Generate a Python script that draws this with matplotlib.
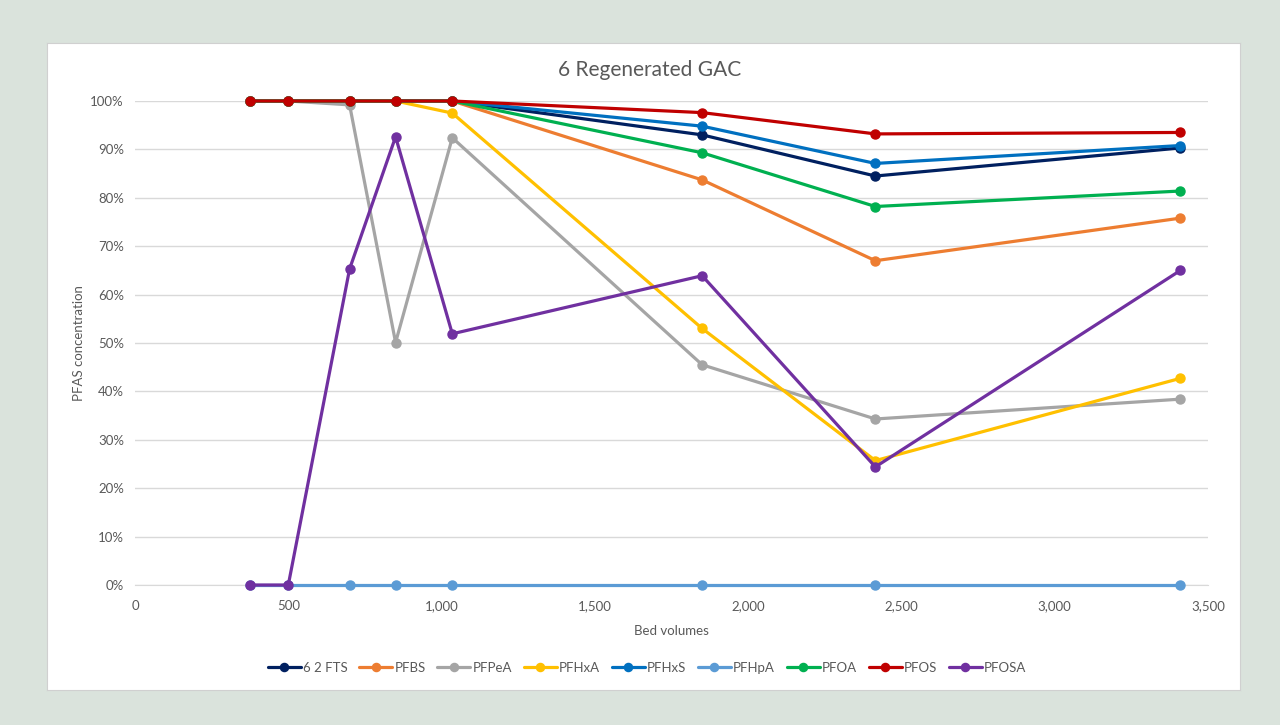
import matplotlib
matplotlib.use("Agg")
import matplotlib.pyplot as plt
from matplotlib.ticker import FuncFormatter, MultipleLocator

plt.rcParams["font.family"] = ["Lato", "DejaVu Sans"]

bed_volumes = [375, 500, 700, 850, 1035, 1850, 2415, 3410]

series_names = ["6 2 FTS", "PFBS", "PFPeA", "PFHxA", "PFHxS", "PFHpA", "PFOA", "PFOS", "PFOSA"]
fts62 = [100, 100, 100, 100, 100, 93.0, 84.5, 90.3]
pfbs = [100, 100, 100, 100, 100, 83.7, 67.0, 75.8]
pfpea = [100, 100, 99.2, 50.1, 92.4, 45.5, 34.3, 38.4]
pfhxa = [100, 100, 100, 100, 97.5, 53.0, 25.7, 42.7]
pfhxs = [100, 100, 100, 100, 100, 94.8, 87.1, 90.8]
pfhpa = [0, 0, 0, 0, 0, 0, 0, 0]
pfoa = [100, 100, 100, 100, 100, 89.3, 78.2, 81.4]
pfos = [100, 100, 100, 100, 100, 97.6, 93.2, 93.5]
pfosa = [0, 0, 65.3, 92.6, 51.9, 63.9, 24.4, 65.0]

colors = ["#002060", "#ED7D31", "#A5A5A5", "#FFC000", "#0070C0", "#5B9BD5", "#00B050", "#C00000", "#7030A0"]
all_series = [fts62, pfbs, pfpea, pfhxa, pfhxs, pfhpa, pfoa, pfos, pfosa]

W, H = 1280, 725
fig = plt.figure(figsize=(W / 100, H / 100), dpi=100)
fig.patch.set_facecolor("#DAE3DC")
# white chart panel
bg = fig.add_axes([47 / W, 1 - 690 / H, (1240 - 47) / W, (690 - 43) / H], zorder=-5)
bg.set_facecolor("white")
bg.set_xticks([])
bg.set_yticks([])
for s in bg.spines.values():
    s.set_color("#D0D0D0")
    s.set_linewidth(0.8)

ax = fig.add_axes([135 / W, 1 - 585 / H, (1208 - 135) / W, (585 - 101) / H], zorder=1)
ax.set_facecolor("none")

for name, vals, c in zip(series_names, all_series, colors):
    ax.plot(bed_volumes, [v / 100 for v in vals], color=c, lw=2.3, marker="o",
            markersize=6.5, label=name, solid_capstyle="round", clip_on=False, zorder=3)

ax.set_xlim(0, 3500)
ax.set_ylim(0, 1.0)
ax.xaxis.set_major_locator(MultipleLocator(500))
ax.yaxis.set_major_locator(MultipleLocator(0.1))
ax.xaxis.set_major_formatter(FuncFormatter(lambda v, p: "0" if v == 0 else f"{int(v):,}"))
ax.yaxis.set_major_formatter(FuncFormatter(lambda v, p: f"{v * 100:.0f}%"))
ax.grid(axis="y", color="#D9D9D9", lw=1.0, zorder=0)
ax.set_axisbelow(True)
for s in ["top", "right", "left"]:
    ax.spines[s].set_visible(False)
ax.spines["bottom"].set_color("#D9D9D9")
ax.tick_params(axis="y", length=0, labelsize=9.5, labelcolor="#595959", pad=8)
ax.tick_params(axis="x", length=0, labelsize=9.5, labelcolor="#595959", pad=11)

ax.set_xlabel("Bed volumes", fontsize=9.5, color="#595959", labelpad=9)
ax.set_ylabel("PFAS concentration", fontsize=9.5, color="#595959", labelpad=4)
fig.text(650 / W, 1 - 70 / H, "6 Regenerated GAC", ha="center", va="center",
         fontsize=15, color="#595959")

leg = fig.legend(loc="center", bbox_to_anchor=(647 / W, 1 - 668 / H), ncol=9,
                 frameon=False, fontsize=9.5, handlelength=2.5, columnspacing=0.9,
                 handletextpad=0.15, markerscale=0.9)
for t in leg.get_texts():
    t.set_color("#595959")

fig.savefig("out.png", dpi=100, facecolor=fig.get_facecolor())
